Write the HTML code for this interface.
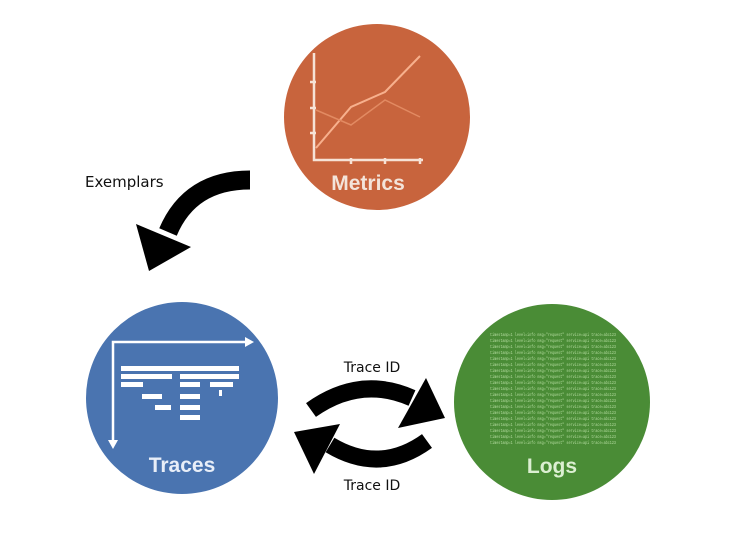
<!DOCTYPE html>
<html><head><style>
html,body{margin:0;padding:0;background:#fff;}
body{width:743px;height:539px;overflow:hidden;}
</style></head><body>
<svg width="743" height="539" viewBox="0 0 743 539" xmlns="http://www.w3.org/2000/svg">
<!-- Metrics -->
<circle cx="377" cy="117" r="93" fill="#c8643d"/>
<g stroke="#f6e2d6" stroke-width="2.5" fill="none">
<polyline points="314,53 314,160 423,160"/>
<line x1="310" y1="82" x2="316" y2="82"/><line x1="310" y1="108" x2="316" y2="108"/><line x1="310" y1="133" x2="316" y2="133"/>
<line x1="351" y1="158" x2="351" y2="164"/><line x1="385" y1="158" x2="385" y2="164"/><line x1="420" y1="158" x2="420" y2="164"/>
</g>
<polyline points="316,148 351,107 385,92 420,56" stroke="#f7b08d" stroke-width="2" fill="none"/>
<polyline points="316,110 351,125 385,100 420,117" stroke="#e28a62" stroke-width="1.5" fill="none"/>
<text x="368" y="190" text-anchor="middle" font-family="Liberation Sans, sans-serif" font-weight="bold" font-size="21" fill="#f3e4da">Metrics</text>
<!-- Traces -->
<circle cx="182" cy="398" r="96" fill="#4a74b0"/>
<g stroke="#fff" stroke-width="2.5" fill="none">
<polyline points="113,445 113,342 245,342"/>
</g>
<polygon points="245,337 254,342 245,347" fill="#fff"/>
<polygon points="108,440 118,440 113,449" fill="#fff"/>
<g fill="#fff">
<rect x="121" y="366" width="118" height="5"/>
<rect x="121" y="374" width="51" height="5"/><rect x="180" y="374" width="59" height="5"/>
<rect x="121" y="382" width="22" height="5"/><rect x="180" y="382" width="20" height="5"/><rect x="210" y="382" width="23" height="5"/>
<rect x="142" y="394" width="20" height="5"/><rect x="180" y="394" width="20" height="5"/><rect x="219" y="390" width="3" height="6"/>
<rect x="155" y="405" width="16" height="5"/><rect x="180" y="405" width="20" height="5"/>
<rect x="180" y="415" width="20" height="5"/>
</g>
<text x="182" y="472" text-anchor="middle" font-family="Liberation Sans, sans-serif" font-weight="bold" font-size="21" fill="#e8eef8">Traces</text>
<!-- Logs -->
<circle cx="552" cy="402" r="98" fill="#4a8c36"/>
<g font-family="Liberation Mono, monospace" font-size="4.2" fill="#b5dca1">
<text x="490" y="336" textLength="126" lengthAdjust="spacingAndGlyphs">timestamp=1 level=info msg="request" service=api trace=abc123</text>
<text x="490" y="342" textLength="126" lengthAdjust="spacingAndGlyphs">timestamp=1 level=info msg="request" service=api trace=abc123</text>
<text x="490" y="348" textLength="126" lengthAdjust="spacingAndGlyphs">timestamp=1 level=info msg="request" service=api trace=abc123</text>
<text x="490" y="354" textLength="126" lengthAdjust="spacingAndGlyphs">timestamp=1 level=info msg="request" service=api trace=abc123</text>
<text x="490" y="360" textLength="126" lengthAdjust="spacingAndGlyphs">timestamp=1 level=info msg="request" service=api trace=abc123</text>
<text x="490" y="366" textLength="126" lengthAdjust="spacingAndGlyphs">timestamp=1 level=info msg="request" service=api trace=abc123</text>
<text x="490" y="372" textLength="126" lengthAdjust="spacingAndGlyphs">timestamp=1 level=info msg="request" service=api trace=abc123</text>
<text x="490" y="378" textLength="126" lengthAdjust="spacingAndGlyphs">timestamp=1 level=info msg="request" service=api trace=abc123</text>
<text x="490" y="384" textLength="126" lengthAdjust="spacingAndGlyphs">timestamp=1 level=info msg="request" service=api trace=abc123</text>
<text x="490" y="390" textLength="126" lengthAdjust="spacingAndGlyphs">timestamp=1 level=info msg="request" service=api trace=abc123</text>
<text x="490" y="396" textLength="126" lengthAdjust="spacingAndGlyphs">timestamp=1 level=info msg="request" service=api trace=abc123</text>
<text x="490" y="402" textLength="126" lengthAdjust="spacingAndGlyphs">timestamp=1 level=info msg="request" service=api trace=abc123</text>
<text x="490" y="408" textLength="126" lengthAdjust="spacingAndGlyphs">timestamp=1 level=info msg="request" service=api trace=abc123</text>
<text x="490" y="414" textLength="126" lengthAdjust="spacingAndGlyphs">timestamp=1 level=info msg="request" service=api trace=abc123</text>
<text x="490" y="420" textLength="126" lengthAdjust="spacingAndGlyphs">timestamp=1 level=info msg="request" service=api trace=abc123</text>
<text x="490" y="426" textLength="126" lengthAdjust="spacingAndGlyphs">timestamp=1 level=info msg="request" service=api trace=abc123</text>
<text x="490" y="432" textLength="126" lengthAdjust="spacingAndGlyphs">timestamp=1 level=info msg="request" service=api trace=abc123</text>
<text x="490" y="438" textLength="126" lengthAdjust="spacingAndGlyphs">timestamp=1 level=info msg="request" service=api trace=abc123</text>
<text x="490" y="444" textLength="126" lengthAdjust="spacingAndGlyphs">timestamp=1 level=info msg="request" service=api trace=abc123</text>
</g>
<text x="552" y="473" text-anchor="middle" font-family="Liberation Sans, sans-serif" font-weight="bold" font-size="21" fill="#dcefd2">Logs</text>
<!-- Exemplars -->
<text x="85" y="187" font-family="DejaVu Sans, sans-serif" font-size="15" fill="#111">Exemplars</text>
<path d="M250,180 Q190,180 168,232" stroke="#000" stroke-width="19" fill="none"/>
<polygon points="136,224 191,247 149,271" fill="#000"/>
<!-- Trace ID arrows -->
<text x="372" y="372" text-anchor="middle" font-family="DejaVu Sans, sans-serif" font-size="14" fill="#111">Trace ID</text>
<text x="372" y="490" text-anchor="middle" font-family="DejaVu Sans, sans-serif" font-size="14" fill="#111">Trace ID</text>
<path d="M311,410 Q360,375 412,398" stroke="#000" stroke-width="17" fill="none"/>
<polygon points="426,378 445,418 398,428" fill="#000"/>
<path d="M427,441 Q380,475 330,445" stroke="#000" stroke-width="17" fill="none"/>
<polygon points="340,424 294,432 314,474" fill="#000"/>
</svg>
</body></html>
